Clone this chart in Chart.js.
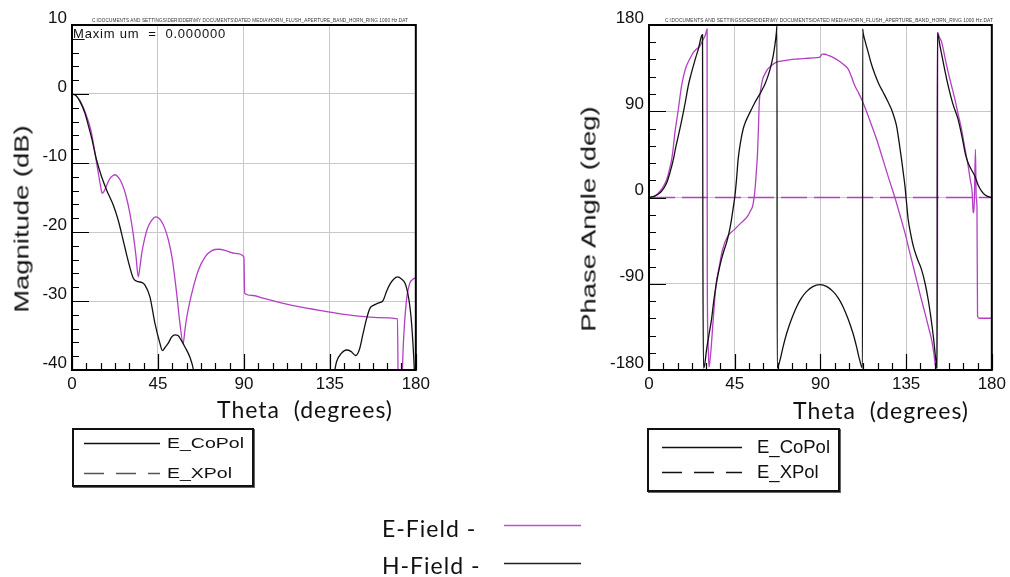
<!DOCTYPE html>
<html>
<head>
<meta charset="utf-8">
<script src="https://cdn.jsdelivr.net/npm/chart.js@4.4.1/dist/chart.umd.min.js"></script>
<style>
  html, body { margin: 0; padding: 0; background: #fff; }
  body { width: 1010px; height: 577px; position: relative; overflow: hidden;
         font-family: "Liberation Sans", Arial, sans-serif; color: #111; }
  .abs { position: absolute; white-space: nowrap; }
  canvas { position: absolute; }
  .ytitle { font-size: 20px; transform: translate(-50%, -50%) rotate(-90deg) scaleX(1.37); }
  .xtitle { font-family: Lato, "Open Sans", sans-serif; font-size: 23px; letter-spacing: 1px; transform: translate(-50%, -50%); }
  .path { font-size: 5px; color: #333; transform-origin: 0 50%; letter-spacing: 0.1px; }
  .box { position: absolute; border: 2px solid #111; box-shadow: 1px 1px 0 #666; background: #fff; }
  .leg { position: absolute; }
  .field { font-family: Lato, "Open Sans", sans-serif; font-size: 23px; letter-spacing: 1px; }
</style>
</head>
<body>

<canvas id="magChart" width="434" height="400" style="left:0;top:0"></canvas>
<canvas id="phaseChart" width="450" height="400" style="left:560px;top:0"></canvas>

<div class="abs path" data-w="316" style="left:92px;top:17px">C:\DOCUMENTS AND SETTINGS\DERIDDER\MY DOCUMENTS\DATED MEDIA\HORN_FLUSH_APERTURE_BAND_HORN_RING 1000 Hz.DAT</div>
<div class="abs path" data-w="328" style="left:665px;top:17px">C:\DOCUMENTS AND SETTINGS\DERIDDER\MY DOCUMENTS\DATED MEDIA\HORN_FLUSH_APERTURE_BAND_HORN_RING 1000 Hz.DAT</div>

<div class="abs" style="left:73px;top:26px;font-size:13px;letter-spacing:0.8px"><u>M</u>axim um&nbsp; = &nbsp;0.000000</div>

<div class="abs ytitle" style="left:22px;top:219px">Magnitude (dB)</div>
<div class="abs ytitle" style="left:589px;top:219px">Phase Angle (deg)</div>

<div class="abs xtitle" style="left:305px;top:409px">Theta&nbsp; (degrees)</div>
<div class="abs xtitle" style="left:881px;top:410px">Theta&nbsp; (degrees)</div>

<!-- polarisation key boxes -->
<div class="box" style="left:72px;top:428px;width:178px;height:55px"></div>
<div class="box" style="left:647px;top:428px;width:189px;height:60px"></div>

<svg class="leg" style="left:0;top:0" width="1010" height="577">
  <!-- magnitude plot key -->
  <line x1="84" y1="443.5" x2="160" y2="443.5" stroke="#111" stroke-width="1.3"/>
  <line x1="84" y1="473.5" x2="160" y2="473.5" stroke="#555" stroke-width="1.3" stroke-dasharray="20 12"/>
  <!-- phase plot key -->
  <line x1="662" y1="447.5" x2="742" y2="447.5" stroke="#111" stroke-width="1.3"/>
  <line x1="662" y1="472.5" x2="742" y2="472.5" stroke="#111" stroke-width="1.3" stroke-dasharray="20 12"/>
  <!-- field key -->
  <line x1="504" y1="525.5" x2="581" y2="525.5" stroke="#c050c8" stroke-width="1.4"/>
  <line x1="504" y1="563.5" x2="581" y2="563.5" stroke="#222" stroke-width="1.4"/>
</svg>

<div class="abs" style="left:167px;top:434px;font-size:15px;transform:scaleX(1.3);transform-origin:0 50%">E_CoPol</div>
<div class="abs" style="left:167px;top:464px;font-size:15px;transform:scaleX(1.3);transform-origin:0 50%">E_XPol</div>
<div class="abs" style="left:757px;top:436px;font-size:18.5px">E_CoPol</div>
<div class="abs" style="left:757px;top:461px;font-size:18.5px">E_XPol</div>

<div class="abs field" style="left:382px;top:514px">E-Field -</div>
<div class="abs field" style="left:382px;top:551px">H-Field -</div>

<script>
// ---- Magnitude (dB) vs theta ----
const magThetaE = [0, 2, 4, 6, 8, 10, 12, 13.5, 15, 15.8, 17, 18.5, 20, 21.5, 22.5, 24, 25.5, 27, 28.5, 30.3, 32, 33.5, 34.7, 35.6, 36.5, 38, 39.5, 41.5, 44, 46.5, 48.5, 50.5, 52.5, 54.5, 56.5, 58.2, 59, 60, 62.7, 66.2, 69.7, 73.2, 77, 80.5, 85.4, 90, 90.4, 95, 100, 110, 120, 135, 150, 160, 170.4, 170.9, 172.2, 173.4, 175.1, 176.9, 178.3, 180];
const magE      = [0, -0.2, -0.9, -2.0, -3.5, -5.4, -8.5, -11.0, -13.4, -14.4, -14.0, -13.0, -12.2, -11.8, -11.7, -12.0, -12.6, -13.6, -15.0, -17.3, -20.2, -23.5, -26.5, -25.0, -23.1, -21.0, -19.5, -18.4, -17.8, -18.3, -19.4, -21.2, -23.9, -28.2, -33.2, -36.2, -34.5, -32.5, -28.9, -25.5, -23.6, -22.7, -22.5, -22.7, -23.1, -23.6, -28.9, -29.2, -29.6, -30.3, -30.9, -31.6, -32.2, -32.4, -32.6, -46, -46, -36.6, -29.9, -27.4, -26.9, -26.6];

const magThetaH = [0, 2, 4, 6.8, 8.5, 10.3, 12.9, 15.5, 18.1, 21.6, 24.2, 26.8, 29.5, 32.1, 34.7, 36.5, 38.2, 40.8, 43.4, 46, 47.3, 48.8, 50.4, 52.2, 53.9, 55.5, 57, 59.2, 61.8, 63.6, 66, 100, 135, 137.6, 138.5, 141, 143.7, 146, 148.6, 150.5, 152.4, 154.2, 155.9, 158, 160.3, 162.9, 164.7, 166.4, 168.5, 170.5, 172.5, 174.3, 175.6, 176.9, 177.8, 178.6, 179.3, 180];
const magH      = [0, -0.2, -1.0, -2.8, -4.5, -6.4, -9.6, -12.0, -13.9, -16.1, -18.3, -21.2, -24.3, -26.7, -27.2, -27.3, -27.7, -29.4, -33.2, -36.1, -37.2, -36.7, -36.1, -35.2, -34.9, -35.0, -35.6, -36.7, -38.2, -40.0, -45, null, -44, -40.0, -38.8, -37.6, -37.1, -37.3, -37.9, -37.0, -34.7, -32.6, -31.1, -30.6, -30.3, -29.9, -28.6, -27.6, -26.8, -26.5, -26.8, -27.4, -28.6, -30.8, -33.3, -36.6, -40.5, -46];

// ---- Phase angle (deg) vs theta ----
const phThetaE = [0, 3, 5.8, 7.5, 9.3, 10.6, 11.9, 12.8, 13.6, 14.5, 15.4, 16.2, 17.1, 18.3, 19.7, 21.5, 23.3, 25, 26.8, 28.5, 29.5, 30.2, 30.5, 30.6, 31.0, 31.5, 32.4, 33.7, 35.1, 36.9, 38.6, 41.3, 44.8, 48.3, 51.8, 53.5, 54.4, 55.2, 55.8, 56.4, 57, 57.5, 57.9, 58.7, 59.7, 61, 62.3, 64.5, 66.7, 70, 73.7, 78, 82.4, 86, 89.4, 91, 92.5, 94.1, 96.8, 99.4, 102, 104.6, 106.3, 108.1, 109.8, 111.6, 113.4, 115.1, 117.3, 119.5, 121.7, 123.9, 126.5, 129.1, 131.8, 134.4, 137, 139.6, 142.2, 144.9, 146.6, 148.4, 149.5, 150.6, 151.4, 151.6, 152.3, 153.7, 155.4, 157.1, 158.8, 160.6, 162.3, 164.1, 165.8, 167.6, 168.7, 169.7, 170.2, 170.8, 171.4, 171.8, 172.2, 172.5, 173.5, 176, 180];
const phE      = [0, 1.5, 6.6, 11.5, 18.8, 28, 39.8, 53, 67.7, 80, 92.1, 104, 116.5, 128, 137.4, 145, 151.4, 155, 158.3, 165.3, 169, 174, 176, -80, -150, -177, -162.5, -127.7, -92.9, -71.9, -54.4, -40.5, -33.5, -26.5, -19.5, -13, -9.1, 0, 11.8, 28, 46.8, 75, 99.1, 113, 123.5, 129.5, 134, 138, 141, 142.5, 143.7, 144.5, 145.1, 145.6, 146.1, 149.6, 149.5, 148.3, 146, 143, 139, 134, 126, 116.5, 110, 102.6, 94, 85.1, 73, 60.7, 47, 32.8, 16, 0, -18.5, -37, -58, -78.8, -100, -120.7, -134, -148.6, -162, -177, -178, 172.3, 168, 161.9, 146, 130.5, 117, 102.6, 87, 71.2, 52, 32.8, 18, 4.9, -16, -5, 50.2, 0, -10, -124, -126, -126, -126];

const phThetaH = [0, 3, 5.8, 7.5, 9.3, 11, 12.8, 14, 15.4, 16.7, 18, 19.3, 20.6, 22, 23.3, 24.6, 25.9, 27.6, 28.1, 28.3, 28.6, 29.2, 30.2, 31.5, 32.8, 34, 35.4, 36.7, 38, 39.4, 40.7, 42, 43.3, 44.2, 45.1, 46, 46.8, 48, 49.4, 50.7, 52.1, 53.8, 55.6, 57.3, 59.1, 60.8, 62.5, 64, 65.2, 66.1, 66.9, 67.2, 67.3, 68.8, 70.5, 72.3, 75, 77.6, 80, 82.8, 86, 89.7, 93.4, 96.6, 99.4, 101.8, 104.4, 107.1, 108.9, 110.6, 112.1, 112.2, 112.4, 113.5, 115.1, 116.8, 118.6, 120.8, 123, 125.2, 127.3, 128.7, 130, 131.3, 132.6, 133.5, 134.4, 135.2, 136.1, 137.4, 138.8, 140.9, 143.1, 145, 146.6, 148, 149.3, 150.6, 151.2, 151.4, 152.8, 155, 157.1, 159.5, 162.3, 164.5, 166.3, 167.6, 169, 171.1, 172.8, 174.6, 176.5, 178.9, 180];
const phH      = [0, 1.5, 4.9, 9, 15.3, 26, 39.8, 52, 64.2, 76, 88.6, 102, 116.5, 128, 137.4, 146.5, 154.9, 168.8, 170, -60, -178, -175, -159, -143, -127.7, -108, -89.3, -76, -64.9, -55, -47.4, -37, -23, -11, 1.4, 20, 39.8, 57, 71.2, 79, 85.1, 92, 99.1, 105, 111.2, 118, 126.9, 137, 147.9, 159, 172.3, 179, -178, -169.5, -155, -141.6, -126, -113.7, -105, -98, -93, -91, -93, -98, -105, -113.7, -126, -141.6, -155, -169.5, -178, 176, 172.3, 163, 151.4, 139, 128.7, 118, 109.6, 101, 92.1, 84, 74.6, 58, 39.8, 26, 11.8, -5, -23, -38, -51, -64, -75.3, -90, -106.7, -125, -145, -169.5, -178, 172, 158, 136, 116.5, 98, 81.6, 62, 44, 36, 30, 22.3, 13, 6.6, 2.5, 0.3, 0];

const phThetaX = [0, 180];
const phX      = [0, 0];

// axis tick labels
const magTicks = [10, 0, -10, -20, -30, -40];
const phaseTicks = [180, 90, 0, -90, -180];
const thetaTicks = [0, 45, 90, 135, 180];

const E_COLOR = '#b43fc4';
const H_COLOR = '#111111';

const pts = (xs, ys) => xs.map((t, i) => ({ x: t, y: ys[i] }));

// frame around the plot plus inward minor/major tick marks
const innerTicks = {
  id: 'innerTicks',
  afterDatasetsDraw(chart, args, o) {
    const { ctx, chartArea: a, scales: { x, y } } = chart;
    const isMajor = (v, m) => Math.abs(v / m - Math.round(v / m)) < 1e-6;
    ctx.save();
    ctx.strokeStyle = '#000';
    ctx.lineWidth = 1.2;
    ctx.beginPath();
    for (let v = x.min; v <= x.max + 1e-9; v += o.xStep) {
      const px = Math.round(x.getPixelForValue(v)) + 0.5;
      const len = isMajor(v, o.xMajor) ? o.majorLen : o.minorLen;
      ctx.moveTo(px, a.bottom);
      ctx.lineTo(px, a.bottom - len);
    }
    for (let v = y.min; v <= y.max + 1e-9; v += o.yStep) {
      const py = Math.round(y.getPixelForValue(v)) + 0.5;
      const len = isMajor(v, o.yMajor) ? o.majorLen + 1 : o.minorLen;
      ctx.moveTo(a.left, py);
      ctx.lineTo(a.left + len, py);
    }
    ctx.stroke();
    ctx.lineWidth = 2;
    ctx.strokeRect(a.left, a.top, a.right - a.left, a.bottom - a.top);
    ctx.restore();
  }
};

const tickFont = { family: '"Liberation Sans", Arial, sans-serif', size: 17 };

function makeScales(yMin, yMax, yTickList, yWidth) {
  return {
    x: {
      type: 'linear', min: 0, max: 180,
      afterBuildTicks: s => { s.ticks = thetaTicks.map(v => ({ value: v })); },
      ticks: { font: tickFont, color: '#111', padding: 4, maxRotation: 0, autoSkip: false },
      grid: { color: '#c8c8c8', lineWidth: 1, drawTicks: false },
      border: { display: false },
      afterFit: s => { s.height = 30; }
    },
    y: {
      type: 'linear', min: yMin, max: yMax,
      afterBuildTicks: s => { s.ticks = yTickList.map(v => ({ value: v })); },
      ticks: { font: tickFont, color: '#111', padding: 5, labelOffset: -7, autoSkip: false },
      grid: { color: '#c8c8c8', lineWidth: 1, drawTicks: false },
      border: { display: false },
      afterFit: s => { s.width = yWidth; }
    }
  };
}

const lineStyle = (color, extra) => Object.assign({
  borderColor: color, borderWidth: 1.3, pointRadius: 0,
  cubicInterpolationMode: 'monotone', spanGaps: false, fill: false
}, extra || {});

const common = {
  responsive: false, animation: false, events: [],
  layout: { padding: { top: 25, right: 14, left: 0, bottom: 0 } },
  plugins: { legend: { display: false }, tooltip: { enabled: false } }
};

new Chart(document.getElementById('magChart'), {
  type: 'line',
  data: {
    datasets: [
      lineStyle(H_COLOR, { label: 'H-Field E_CoPol', data: pts(magThetaH, magH) }),
      lineStyle(E_COLOR, { label: 'E-Field E_CoPol', data: pts(magThetaE, magE) })
    ]
  },
  options: Object.assign({}, common, {
    scales: makeScales(-40, 10, magTicks, 72),
    plugins: Object.assign({}, common.plugins, {
      innerTicks: { xStep: 7.5, xMajor: 45, yStep: 2, yMajor: 10, majorLen: 16, minorLen: 7 }
    })
  }),
  plugins: [innerTicks]
});

new Chart(document.getElementById('phaseChart'), {
  type: 'line',
  data: {
    datasets: [
      lineStyle(H_COLOR, { label: 'H-Field E_CoPol', data: pts(phThetaH, phH) }),
      lineStyle(E_COLOR, { label: 'E-Field E_XPol', data: pts(phThetaX, phX), borderDash: [26, 7], cubicInterpolationMode: 'default', tension: 0 }),
      lineStyle(E_COLOR, { label: 'E-Field E_CoPol', data: pts(phThetaE, phE) })
    ]
  },
  options: Object.assign({}, common, {
    scales: makeScales(-180, 180, phaseTicks, 89),
    plugins: Object.assign({}, common.plugins, {
      innerTicks: { xStep: 7.5, xMajor: 45, yStep: 18, yMajor: 90, majorLen: 16, minorLen: 7 }
    })
  }),
  plugins: [innerTicks]
});

// squeeze the tiny file-path captions to their header width
document.querySelectorAll('.path').forEach(el => {
  const k = parseFloat(el.dataset.w) / el.offsetWidth;
  el.style.transform = 'scaleX(' + k + ')';
});
</script>
</body>
</html>
